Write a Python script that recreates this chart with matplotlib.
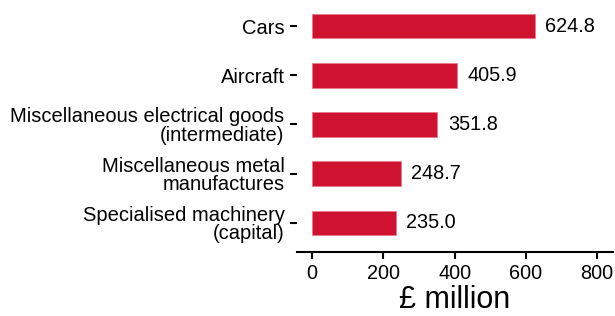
import matplotlib
matplotlib.use("Agg")
import matplotlib.pyplot as plt

plt.rcParams['font.family'] = ['Liberation Sans', 'DejaVu Sans']

categories = ["Cars", "Aircraft", "Miscellaneous electrical goods\n(intermediate)",
              "Miscellaneous metal\nmanufactures", "Specialised machinery\n(capital)"]
values = [624.8, 405.9, 351.8, 248.7, 235.0]
xticks = [0, 200, 400, 600, 800]

fig = plt.figure(figsize=(6.15, 3.16), dpi=100)
ax = fig.add_axes([0.483, 0.203, 0.514, 0.797])

n = len(categories)
ypos = list(range(n - 1, -1, -1))
ax.barh(ypos, values, height=0.5, color="#CE1230", edgecolor="#E87A8A", linewidth=0.6)
for y, v in zip(ypos, values):
    ax.text(v + 30, y, f"{v:.1f}", va="center", ha="left", fontsize=14.3)

ax.set_yticks(ypos)
ax.set_yticklabels(categories, fontsize=14.5, linespacing=0.95)
ax.set_xticks(xticks)
ax.set_xticklabels([str(t) for t in xticks], fontsize=14.3)
ax.set_xlim(-42, 845)
ax.set_ylim(-0.59, n - 1 + 0.53)
for s in ["left", "top", "right"]:
    ax.spines[s].set_visible(False)
ax.spines["bottom"].set_linewidth(1.5)
ax.tick_params(axis="y", length=5, width=1.5, pad=4)
ax.tick_params(axis="x", length=5, width=1.5, pad=4)
ax.set_xlabel("£ million", fontsize=22, labelpad=1)

fig.savefig("out.png", dpi=100)
